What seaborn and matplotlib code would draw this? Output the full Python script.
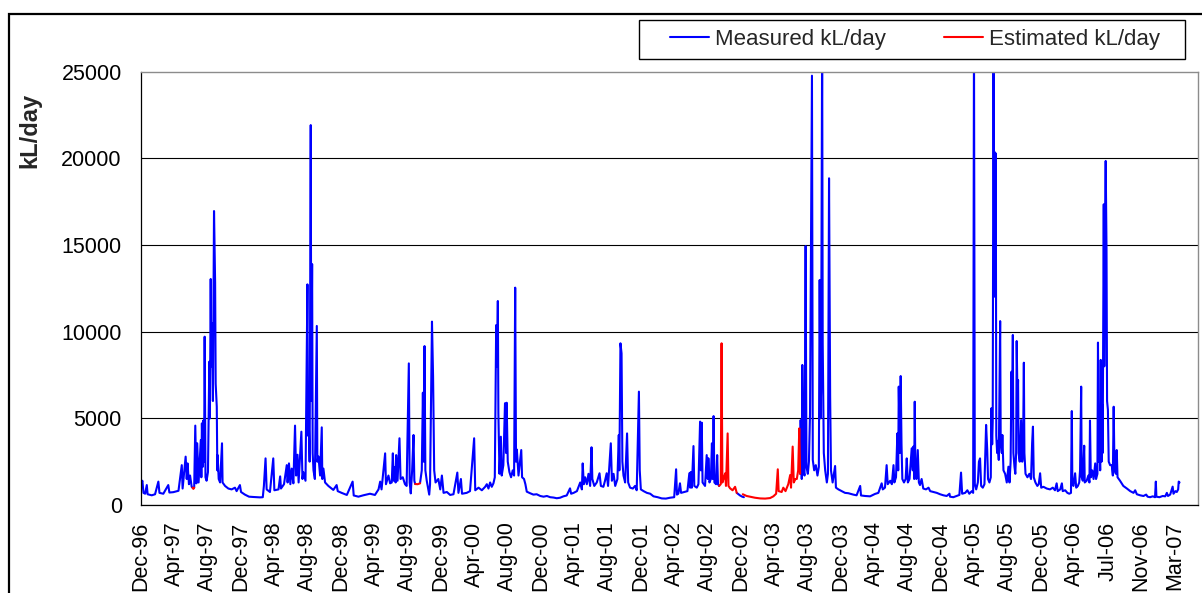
import numpy as np
import pandas as pd
import matplotlib
matplotlib.use("Agg")
import matplotlib.pyplot as plt
import seaborn as sns
from matplotlib.patches import Rectangle
from matplotlib.lines import Line2D

# ---------------- data (day offset from first record, kL/day) ----------------
START = "1996-12-21"
TICK_STEP_DAYS = 121
tick_labels = ["Dec-96", "Apr-97", "Aug-97", "Dec-97", "Apr-98", "Aug-98", "Dec-98",
               "Apr-99", "Aug-99", "Dec-99", "Apr-00", "Aug-00", "Dec-00", "Apr-01",
               "Aug-01", "Dec-01", "Apr-02", "Aug-02", "Dec-02", "Apr-03", "Aug-03",
               "Dec-03", "Apr-04", "Aug-04", "Dec-04", "Apr-05", "Aug-05", "Dec-05",
               "Apr-06", "Jul-06", "Nov-06", "Mar-07"]
y_ticks = [0, 5000, 10000, 15000, 20000, 25000]
series_names = ["Measured kL/day", "Estimated kL/day"]

# None marks a gap in the record
measured = [
    (0, 1200), (5, 1400), (9, 700), (15, 650), (21, 1150), (24, 620), (39, 560), (51, 620),
    (63, 1350), (67, 700), (81, 650), (99, 1150), (103, 720), (117, 740), (136, 820),
    (148, 2300), (151, 950), (162, 2790), (166, 1500), (169, 2400), (174, 1200), (178, 1700),
    (184, 1050), (187, 1000), (188, None),
    (193, 1000), (197, 4580), (201, 1250), (204, 3560), (209, 1300), (217, 3750), (219, 1600),
    (221, 4710), (224, 2200), (226, 4870), (229, 2500), (231, 9710), (234, 1600), (238, 1400),
    (243, 1900), (248, 8270), (250, 5000), (253, 13040), (255, 8000), (258, 10480), (261, 6000),
    (265, 16960), (269, 12830), (271, 7000), (275, 5670), (277, 2000), (278, 2880), (282, 1500),
    (287, 1300), (294, 3560), (296, 1300), (305, 1100), (317, 950), (329, 900), (341, 1000),
    (347, 800), (359, 1150), (363, 750), (377, 600), (392, 480), (410, 460), (432, 440),
    (442, 450), (446, 1100), (452, 2690), (456, 900), (468, 750), (480, 2690), (484, 850),
    (499, 900), (505, 1650), (508, 950), (519, 1200), (529, 2300), (532, 1300), (537, 2400),
    (542, 1200), (547, 2100), (553, 1250), (559, 4580), (563, 1700), (568, 2900), (572, 1300),
    (582, 4230), (586, 1500), (589, 1900), (597, 1400), (604, 12730), (606, 4000), (609, 4800),
    (612, 2500), (616, 21920), (618, 6000), (621, 13900), (623, 3000), (626, 2000), (631, 1500),
    (638, 10330), (640, 2500), (644, 2800), (650, 1700), (656, 4480), (658, 1500), (662, 2100),
    (668, 1300), (680, 1100), (698, 870), (710, 1150), (714, 800), (728, 700), (747, 580),
    (768, 1350), (772, 550), (789, 480), (807, 560), (831, 650), (849, 580), (862, 900),
    (868, 1350), (873, 900), (886, 2980), (889, 1200), (898, 1700), (904, 1250), (910, 1300),
    (914, 2980), (917, 1400), (922, 2200), (924, 1300), (926, 2880), (931, 1400), (938, 3850),
    (942, 1500), (950, 1600), (958, 1200), (964, 1100), (972, 8170), (975, 1300), (979, 670),
    (984, 2000), (989, 4040), (992, 1400), (995, 1210), (996, None),
    (1013, 1300), (1019, 2000), (1023, 6480), (1026, 2500), (1029, 9170), (1032, 2000),
    (1037, 1400), (1046, 600), (1049, 1200), (1056, 10580), (1060, 7400), (1064, 2000),
    (1069, 1300), (1079, 1500), (1086, 900), (1092, 1700), (1098, 700), (1110, 750), (1122, 580),
    (1134, 620), (1148, 1870), (1152, 700), (1161, 1500), (1165, 650), (1182, 700), (1194, 800),
    (1209, 3850), (1213, 850), (1225, 1000), (1237, 850), (1249, 1050), (1255, 1200), (1261, 950),
    (1267, 1300), (1273, 1050), (1279, 1250), (1284, 1600), (1289, 10380), (1292, 8000),
    (1295, 11770), (1297, 5290), (1301, 1800), (1306, 3940), (1309, 1700), (1315, 2300),
    (1321, 5870), (1325, 3000), (1327, 5900), (1331, 2500), (1337, 1900), (1343, 1600),
    (1349, 2000), (1354, 1700), (1358, 12540), (1361, 2500), (1364, 3200), (1370, 1700),
    (1380, 3170), (1383, 1600), (1390, 1500), (1395, 1200), (1400, 770), (1412, 680), (1424, 600),
    (1436, 620), (1449, 520), (1461, 480), (1473, 520), (1485, 450), (1497, 430), (1509, 390),
    (1521, 420), (1533, 500), (1545, 550), (1557, 960), (1561, 650), (1570, 700), (1582, 800),
    (1589, 1100), (1594, 1300), (1600, 900), (1603, 2400), (1607, 1200), (1612, 1600),
    (1618, 1200), (1624, 1800), (1630, 1100), (1635, 3330), (1638, 1500), (1645, 1100),
    (1654, 1300), (1664, 1830), (1669, 1100), (1678, 1050), (1684, 1400), (1690, 1830),
    (1695, 1100), (1705, 3560), (1709, 1400), (1715, 1800), (1721, 1100), (1729, 1500),
    (1734, 4040), (1736, 2000), (1740, 9330), (1744, 8750), (1747, 2500), (1751, 1700),
    (1757, 1300), (1764, 4130), (1768, 1300), (1775, 1000), (1785, 950), (1793, 1100), (1799, 850),
    (1807, 6540), (1810, 2000), (1814, 900), (1824, 800), (1836, 700), (1848, 650), (1860, 500),
    (1875, 450), (1890, 380), (1905, 370), (1920, 420), (1935, 450), (1942, 2060), (1945, 600),
    (1950, 650), (1956, 1250), (1960, 700), (1974, 760), (1983, 800), (1990, 1830), (1993, 1000),
    (1995, 1900), (1999, 1000), (2005, 3400), (2008, 1100), (2017, 1000), (2023, 1200),
    (2029, 4810), (2032, 2000), (2035, 4750), (2038, 1300), (2047, 1100), (2053, 2880),
    (2057, 1500), (2059, 2700), (2063, 1300), (2068, 1500), (2072, 3560), (2075, 1500),
    (2078, 5130), (2081, 1300), (2087, 1200), (2091, 2880), (2094, 1200), (2098, 1100),
    (2099, None),
    (2162, 700), (2170, 600), (2174, 550), (2182, 480), (2188, 450), (2189, None),
    (2392, 1800), (2394, 4900), (2398, 1500), (2400, 8080), (2404, 2000), (2408, 1700),
    (2412, 14940), (2415, 2200), (2420, 1800), (2424, 2500), (2428, 5290), (2432, 16440),
    (2435, 24770), (2438, 2600), (2443, 2000), (2449, 2300), (2455, 1700), (2460, 2200),
    (2463, 12980), (2466, 5000), (2468, 6500), (2472, 27000), (2474, 9330), (2478, 3000),
    (2483, 2000), (2489, 1300), (2493, 1800), (2497, 18850), (2501, 6250), (2504, 2000),
    (2510, 1300), (2519, 2250), (2522, 1000), (2531, 900), (2543, 800), (2555, 700), (2567, 680),
    (2585, 600), (2597, 560), (2610, 1100), (2613, 550), (2628, 520), (2646, 500), (2664, 640),
    (2676, 700), (2688, 1250), (2692, 900), (2700, 1000), (2706, 2300), (2710, 1200), (2719, 1400),
    (2725, 1200), (2731, 2300), (2734, 1300), (2740, 1600), (2745, 4130), (2748, 2000),
    (2750, 6830), (2754, 3000), (2757, 7440), (2760, 3500), (2763, 1500), (2769, 1300),
    (2775, 1500), (2779, 2690), (2783, 1300), (2789, 1500), (2797, 3270), (2801, 2000),
    (2803, 3370), (2806, 1500), (2808, 5960), (2810, 2500), (2814, 1500), (2819, 3170),
    (2823, 1300), (2827, 1150), (2833, 1500), (2839, 950), (2849, 900), (2858, 1000), (2864, 800),
    (2876, 750), (2888, 700), (2900, 620), (2912, 560), (2924, 520), (2934, 650), (2936, 480),
    (2948, 450), (2960, 520), (2970, 580), (2976, 1870), (2980, 650), (2991, 700), (2999, 850),
    (3006, 650), (3015, 800), (3020, 700), (3023, 27000), (3026, 1200), (3031, 900), (3037, 1300),
    (3041, 2500), (3045, 2690), (3049, 1100), (3055, 1000), (3061, 1200), (3067, 4620),
    (3071, 3200), (3074, 1500), (3079, 1300), (3084, 1600), (3086, 5580), (3089, 3500),
    (3091, 4800), (3094, 27000), (3096, 15000), (3097, 20380), (3100, 12000), (3102, 20290),
    (3104, 4000), (3107, 3000), (3109, 3700), (3113, 2600), (3118, 10610), (3120, 3500),
    (3124, 3000), (3126, 4040), (3130, 2000), (3136, 1800), (3142, 1300), (3148, 2210),
    (3152, 1300), (3156, 2500), (3159, 7690), (3161, 5000), (3164, 9810), (3166, 3000),
    (3170, 2200), (3173, 1800), (3176, 3000), (3178, 9460), (3181, 6000), (3183, 7210),
    (3185, 3000), (3189, 2500), (3194, 4900), (3198, 2500), (3201, 3000), (3204, 8210),
    (3206, 3000), (3210, 1800), (3217, 1600), (3224, 1800), (3230, 1500), (3234, 3560),
    (3237, 4520), (3240, 1600), (3246, 1300), (3253, 1100), (3258, 1200), (3263, 1830),
    (3267, 1000), (3275, 1050), (3287, 950), (3299, 900), (3309, 1000), (3317, 850), (3323, 1250),
    (3327, 800), (3336, 900), (3342, 1250), (3345, 800), (3354, 850), (3362, 700), (3369, 650),
    (3375, 700), (3378, 5420), (3380, 1200), (3384, 1100), (3390, 1830), (3394, 1000),
    (3400, 1100), (3405, 1300), (3408, 2020), (3412, 6830), (3414, 1600), (3418, 1400),
    (3423, 3420), (3425, 1300), (3432, 1400), (3438, 1700), (3442, 1300), (3444, 4870),
    (3447, 1600), (3452, 2000), (3457, 1500), (3463, 2400), (3466, 1500), (3471, 1800),
    (3473, 9370), (3476, 2500), (3478, 4300), (3481, 2000), (3483, 8370), (3486, 2500),
    (3488, 5800), (3490, 3000), (3494, 17350), (3496, 8000), (3499, 17100), (3501, 19850),
    (3504, 14710), (3506, 6000), (3509, 5500), (3512, 2500), (3517, 2300), (3523, 2300),
    (3527, 1700), (3530, 5670), (3533, 2000), (3538, 1800), (3541, 3170), (3544, 1600),
    (3553, 1400), (3565, 1100), (3578, 950), (3590, 800), (3602, 700), (3608, 850), (3614, 620),
    (3626, 560), (3638, 520), (3648, 600), (3653, 480), (3662, 450), (3672, 500), (3680, 450),
    (3683, 1350), (3685, 480), (3696, 450), (3708, 520), (3717, 500), (3723, 700), (3727, 520),
    (3735, 600), (3744, 1060), (3747, 650), (3754, 800), (3759, 750), (3764, 900), (3766, 1350),
    (3769, 1300),
]

estimated = [
    (187, 1000), (190, 930), (193, 1000), (194, None),
    (995, 1210), (1004, 1200), (1013, 1250), (1014, None),
    (2098, 1100), (2104, 1200), (2107, 9330), (2110, 1300), (2114, 1500), (2120, 1830),
    (2123, 1100), (2129, 4130), (2132, 1100), (2138, 960), (2147, 850), (2156, 1050),
    (2162, 700), (2163, None),
    (2184, 620), (2198, 520), (2210, 480), (2228, 420), (2247, 380), (2265, 370), (2283, 400),
    (2295, 500), (2305, 650), (2311, 2060), (2314, 800), (2325, 750), (2331, 1000), (2339, 800),
    (2343, 960), (2349, 1200), (2356, 1730), (2359, 1000), (2365, 3370), (2369, 1300),
    (2375, 1500), (2380, 1500), (2385, 2000), (2389, 4420), (2392, 1800),
]

meas_day, meas_kl = zip(*measured)
est_day, est_kl = zip(*estimated)


def to_frame(days, vals):
    df = pd.DataFrame({"day": list(days), "kl": [np.nan if v is None else v for v in vals]})
    df["seg"] = df["kl"].isna().cumsum()
    df = df.dropna().copy()
    df["date"] = pd.Timestamp(START) + pd.to_timedelta(df["day"], unit="D")
    return df


m_df = to_frame(meas_day, meas_kl)
e_df = to_frame(est_day, est_kl)

# ---------------- styling ----------------
sns.set_style("white")
plt.rcParams["font.family"] = ["Liberation Sans", "DejaVu Sans"]

W, H = 1202, 593
fig = plt.figure(figsize=(W / 100, H / 100), dpi=100)
L, R, T, B = 141, 1198, 71.7, 505
ax = fig.add_axes([L / W, 1 - B / H, (R - L) / W, (B - T) / H])

BLUE, RED = "#0000FF", "#FF0000"
sns.lineplot(data=m_df, x="date", y="kl", units="seg", estimator=None, sort=False,
             color=BLUE, lw=1.5, ax=ax, legend=False)
sns.lineplot(data=e_df, x="date", y="kl", units="seg", estimator=None, sort=False,
             color=RED, lw=1.5, ax=ax, legend=False)

start = pd.Timestamp(START)
ax.set_xlim(start, start + pd.Timedelta(days=3836))
ax.set_ylim(0, 25000)
ax.set_yticks(y_ticks)
ax.set_yticklabels([str(v) for v in y_ticks])
tick_pos = [start + pd.Timedelta(days=TICK_STEP_DAYS * i) for i in range(len(tick_labels))]
ax.set_xticks(tick_pos)
ax.set_xticklabels(tick_labels, rotation=90, ha="center", va="top")
ax.set_xlabel("")
ax.set_ylabel("")

ax.set_axisbelow(True)
ax.yaxis.grid(True, color="black", lw=0.8)
ax.xaxis.grid(False)
for gl in ax.get_ygridlines()[-1:]:
    gl.set_visible(False)

for s in ["left", "bottom"]:
    ax.spines[s].set_color("black")
    ax.spines[s].set_linewidth(0.9)
for s in ["top", "right"]:
    ax.spines[s].set_color("#8c8c8c")
    ax.spines[s].set_linewidth(1.0)

ax.tick_params(axis="both", direction="out", length=5.8, width=0.8, color="black",
               labelsize=15.5, labelcolor="black")
ax.tick_params(axis="y", pad=8)
ax.tick_params(axis="x", pad=6)

fig.text(30 / W, 1 - 130 / H, "kL/day", rotation=90, fontweight="bold", fontsize=17,
         ha="center", va="center")

# legend
handles = [Line2D([], [], color=BLUE, lw=1.5), Line2D([], [], color=RED, lw=1.5)]
fig.legend(handles, series_names, loc="center", bbox_to_anchor=(915 / W, 1 - 39.5 / H),
           ncol=2, frameon=False, fontsize=16, handlelength=1.75, handletextpad=0.3,
           columnspacing=2.6, borderpad=0)
fig.add_artist(Rectangle((639 / W, 1 - 59 / H), (1185 - 639) / W, 39 / H,
                         transform=fig.transFigure, fill=False, edgecolor="black", lw=1.0))

# outer chart border (extends beyond right and bottom edges)
fig.add_artist(Rectangle((9 / W, -0.3), 1.5, (1 - 14 / H) + 0.3, transform=fig.transFigure,
                         fill=False, edgecolor="black", lw=1.6, clip_on=False))

fig.savefig("out.png", dpi=100)
